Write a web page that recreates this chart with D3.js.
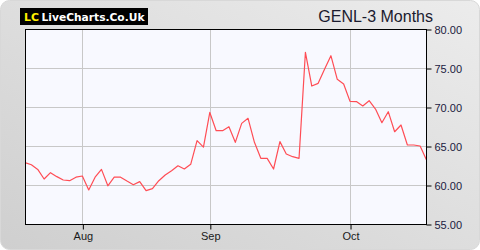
<!DOCTYPE html>
<html><head><meta charset="utf-8">
<script src="https://cdn.jsdelivr.net/npm/d3@7"></script>
<style>html,body{margin:0;padding:0;background:#fff;}svg{display:block;}</style>
</head><body>
<svg id="c" width="480" height="250"></svg>
<script>
const dates = ["2025-07-21","2025-07-22","2025-07-23","2025-07-24","2025-07-25","2025-07-28","2025-07-29","2025-07-30","2025-07-31",
"2025-08-01","2025-08-04","2025-08-05","2025-08-06","2025-08-07","2025-08-08","2025-08-11","2025-08-12","2025-08-13","2025-08-14","2025-08-15",
"2025-08-18","2025-08-19","2025-08-20","2025-08-21","2025-08-22","2025-08-26","2025-08-27","2025-08-28","2025-08-29",
"2025-09-01","2025-09-02","2025-09-03","2025-09-04","2025-09-05","2025-09-08","2025-09-09","2025-09-10","2025-09-11","2025-09-12",
"2025-09-15","2025-09-16","2025-09-17","2025-09-18","2025-09-19","2025-09-22","2025-09-23","2025-09-24","2025-09-25","2025-09-26",
"2025-09-29","2025-09-30",
"2025-10-01","2025-10-02","2025-10-03","2025-10-06","2025-10-07","2025-10-08","2025-10-09","2025-10-10","2025-10-13","2025-10-14",
"2025-10-15","2025-10-16","2025-10-17"];
const prices = [62.86,62.6,62.0,60.77,61.58,61.07,60.64,60.55,61.0,
61.15,59.36,61.0,62.0,59.9,61.0,61.0,60.5,60.04,60.43,59.27,
59.53,60.55,61.28,61.83,62.47,62.05,62.65,65.68,64.85,
69.3,66.96,66.96,67.47,65.47,67.9,68.55,65.47,63.42,63.42,
62.05,65.56,63.97,63.63,63.42,77.01,72.69,73.03,74.83,76.58,
73.55,72.95,
70.72,70.7,70.13,70.81,69.74,67.99,69.4,66.83,67.69,65.13,
65.13,65.0,63.2];
const xTickDates = ["2025-08-01","2025-09-01","2025-10-01"];
const xTickLabels = ["Aug","Sep","Oct"];
const yTicks = [55,60,65,70,75,80];
const title = "GENL-3 Months";

const svg = d3.select("#c");
const L = 25, R = 426, T = 29, B = 224;

const defs = svg.append("defs");
const g = defs.append("linearGradient").attr("id","bg").attr("x1","0").attr("y1","1").attr("x2","1").attr("y2","0");
g.append("stop").attr("offset","0").attr("stop-color","#cfcfcf");
g.append("stop").attr("offset","1").attr("stop-color","#ececec");
svg.append("rect").attr("x",0.5).attr("y",0.5).attr("width",479).attr("height",249).attr("rx",9)
  .attr("fill","url(#bg)").attr("stroke","#d8d8d8");

const x = d3.scalePoint().domain(dates).range([L, R+0.5]);
const y = d3.scaleLinear().domain([55, 80]).range([B, T]);

svg.append("rect").attr("x",L).attr("y",T).attr("width",R-L).attr("height",B-T).attr("fill","#f8f9ff");

// grid
svg.append("g").selectAll("line").data(yTicks.filter(v=>v>55&&v<80)).join("line")
  .attr("x1",L).attr("x2",R).attr("y1",d=>Math.round(y(d))+0.5).attr("y2",d=>Math.round(y(d))+0.5)
  .attr("stroke","#c8c8c8").attr("stroke-width",1);
svg.append("g").selectAll("line").data(xTickDates).join("line")
  .attr("x1",d=>Math.round(x(d))+0.5).attr("x2",d=>Math.round(x(d))+0.5).attr("y1",T).attr("y2",B)
  .attr("stroke","#c8c8c8").attr("stroke-width",1);

// line
svg.append("path").datum(prices)
  .attr("d", d3.line().x((d,i)=>x(dates[i])).y(d=>y(d)))
  .attr("fill","none").attr("stroke","#ff4d55").attr("stroke-width",1.2).attr("stroke-linejoin","round");

// border
svg.append("rect").attr("x",L+0.5).attr("y",T+0.5).attr("width",R-L).attr("height",B-T)
  .attr("fill","none").attr("stroke","#000").attr("stroke-width",1);

// y axis right
const ya = d3.axisRight(y).tickValues(yTicks).tickFormat(d3.format(".2f")).tickSize(5).tickPadding(3);
const yg = svg.append("g").attr("transform",`translate(${R+0.5},0.5)`).call(ya);
yg.select(".domain").remove();
yg.selectAll("text").attr("font-family","Liberation Sans, Arial, sans-serif").attr("font-size",11).attr("fill","#1a1a40");

// x axis bottom
const xa = d3.axisBottom(x).tickValues(xTickDates).tickFormat((d,i)=>xTickLabels[i]).tickSize(5).tickPadding(3);
const xg = svg.append("g").attr("transform",`translate(0.5,${B+0.5})`).call(xa);
xg.select(".domain").remove();
xg.selectAll("text").attr("font-family","Liberation Sans, Arial, sans-serif").attr("font-size",11).attr("fill","#1a1a1a");

// logo
svg.append("rect").attr("x",20).attr("y",8).attr("width",128).attr("height",17).attr("fill","#000");
svg.append("text").attr("x",24).attr("y",20.5).attr("font-family","DejaVu Sans, sans-serif")
  .attr("font-size",11).attr("font-weight","bold").attr("fill","#ffee00")
  .attr("textLength",15).attr("lengthAdjust","spacingAndGlyphs").text("LC");
svg.append("text").attr("x",41.5).attr("y",20.5).attr("font-family","DejaVu Sans, sans-serif")
  .attr("font-size",11).attr("font-weight","bold").attr("fill","#ffffff")
  .attr("textLength",103).attr("lengthAdjust","spacingAndGlyphs").text("LiveCharts.Co.Uk");

// title
svg.append("text").attr("x",433).attr("y",22).attr("text-anchor","end")
  .attr("font-family","Liberation Sans, Arial, sans-serif").attr("font-size",16).attr("fill","#1a1a2e").text(title);
</script>
</body></html>
